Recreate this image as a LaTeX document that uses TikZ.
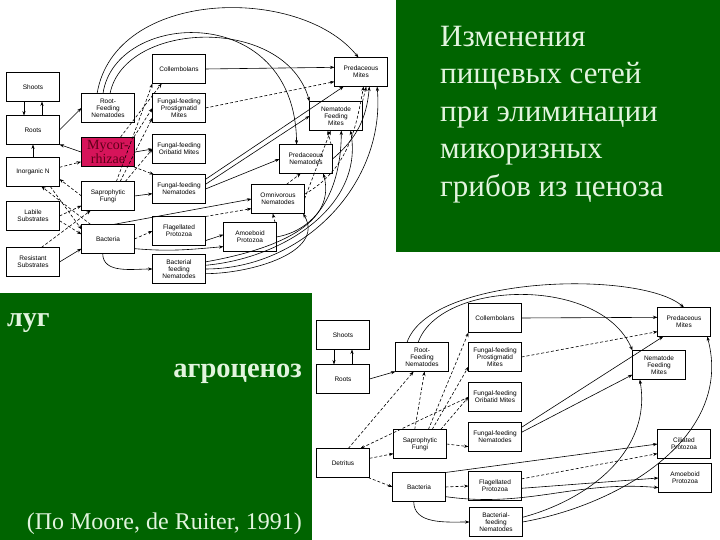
\documentclass[tikz,border=0pt]{standalone}
\usepackage{fontspec}
\setmainfont{Liberation Serif}
\setsansfont{Liberation Sans}
\usepackage{tikz}
\usepackage{tkz-graph}
\usetikzlibrary{arrows,arrows.meta,shapes}

\definecolor{panelgreen}{RGB}{0,100,0}
\definecolor{mint}{RGB}{226,244,222}
\definecolor{mycofill}{RGB}{214,20,90}
\definecolor{mycotext}{RGB}{95,0,25}
\newcommand{\boxfont}{\sffamily\fontsize{6.5}{7}\selectfont}
\newcommand{\mycofont}{\rmfamily\fontsize{14}{11}\selectfont}

\begin{document}
\begin{tikzpicture}[x=1pt,y=1pt]
        \SetVertexNoMath
        \tikzset{VertexStyle/.style={draw,rectangle,line width=0.9pt,minimum width=53pt,
                   minimum height=29pt,inner sep=1pt,align=center,font=\boxfont},
                 EdgeStyle/.style={-{Stealth[length=4.5pt,width=3.2pt]},line width=0.6pt},
                 dsh/.style={dash pattern=on 3pt off 2pt}}
        \useasboundingbox (0,0) rectangle (720,540);
        \fill[panelgreen] (396,288) rectangle (720,540);
        \fill[panelgreen] (0,0) rectangle (312,247);
        %texts
        \node[anchor=north west,inner sep=0,align=left,text=mint,
              font=\fontsize{31}{37.5}\selectfont] (title) at (440,514)
              {Изменения\\пищевых сетей\\при элиминации\\микоризных\\грибов из ценоза};
        \node[anchor=base west,inner sep=0,text=mint,font=\bfseries\fontsize{28}{32}\selectfont] (lug) at (7,213) {луг};
        \node[anchor=base east,inner sep=0,text=mint,font=\bfseries\fontsize{28.5}{32}\selectfont] (agro) at (302,162) {агроценоз};
        \node[anchor=base east,inner sep=0,text=mint,font=\fontsize{24}{28}\selectfont] (cite) at (302,10) {(По Moore, de Ruiter, 1991)};
        %meadow
        \Vertex[x=33,y=453,L={Shoots}]{tShoots}
        \Vertex[x=33,y=410,L={Roots}]{tRoots}
        \Vertex[x=33,y=368,L={Inorganic N}]{tInorgN}
        \Vertex[x=33,y=324,L={Labile\\Substrates}]{tLabile}
        \Vertex[x=33,y=278,L={Resistant\\Substrates}]{tResist}
        \Vertex[x=108,y=432,L={Root-\\Feeding\\Nematodes}]{tRFN}
        \node[VertexStyle,fill=mycofill,text=mycotext,font=\mycofont] (tMyco) at (108,388) {Mycor-\\rhizae};
        \Vertex[x=108,y=344,L={Saprophytic\\Fungi}]{tSapro}
        \Vertex[x=108,y=301,L={Bacteria}]{tBact}
        \Vertex[x=179,y=471,L={Collembolans}]{tColl}
        \Vertex[x=179,y=432,L={Fungal-feeding\\Prostigmatid\\Mites}]{tProst}
        \Vertex[x=179,y=391,L={Fungal-feeding\\Oribatid Mites}]{tOrib}
        \Vertex[x=179,y=351,L={Fungal-feeding\\Nematodes}]{tFFN}
        \Vertex[x=179,y=309,L={Flagellated\\Protozoa}]{tFlag}
        \Vertex[x=179,y=271,L={Bacterial\\feeding\\Nematodes}]{tBFN}
        \Vertex[x=250,y=303,L={Amoeboid\\Protozoa}]{tAmoeb}
        \Vertex[x=278,y=341,L={Omnivorous\\Nematodes}]{tOmni}
        \Vertex[x=306,y=381,L={Predaceous\\Nematodes}]{tPredN}
        \Vertex[x=336,y=424,L={Nematode\\Feeding\\Mites}]{tNFM}
        \Vertex[x=361,y=468,L={Predaceous\\Mites}]{tPredM}
        \Edge([xshift=-9pt]tShoots.south)([xshift=-9pt]tRoots.north)
        \Edge([xshift=9pt]tRoots.north)([xshift=9pt]tShoots.south)
        \Edge(tInorgN)(tRoots)
        \Edge(tRoots.east)(tRFN.west)
        \Edge(tMyco.west)(tRoots.south east)
        \Edge[style={dsh}](tInorgN.10)(tMyco.200)
        \Edge[style={dsh}](tSapro.west)(tInorgN.-15)
        \Edge[style={dsh}](tInorgN.-40)(tBact.160)
        \Edge[style={dsh}](tBact.140)(tInorgN.-60)
        \Edge[style={dsh}](tLabile.east)(tSapro.200)
        \Edge[style={dsh}](tLabile.-10)(tBact.170)
        \Edge[style={dsh}](tResist.60)(tSapro.220)
        \Edge(tResist.east)(tBact.200)
        \Edge[style={dsh}](tSapro.60)(tColl.south west)
        \Edge[style={dsh}](tSapro.50)(tProst.200)
        \Edge[style={dsh}](tSapro.40)(tOrib.west)
        \Edge(tSapro.east)(tFFN.190)
        \Edge[style={dsh}](tMyco.50)(tColl.220)
        \Edge[style={dsh}](tMyco.30)(tProst.west)
        \Edge(tMyco.east)(tOrib.west)
        \Edge[style={dsh}](tMyco.-30)(tFFN.150)
        \Edge[style={dsh}](tBact.east)(tFlag.west)
        \Edge[style={out=-5,in=185}](tBact.-20)(tAmoeb.-160)
        \Edge(tBact.70)(tOmni.west)
        \Edge[style={out=-90,in=180}](tBact.-110)(tBFN.west)
        \Edge(tColl.east)(tPredM.170)
        \Edge[style={dsh}](tProst.east)(tPredM.200)
        \Edge(tFFN.20)(tPredM.220)
        \Edge(tFFN.10)(tNFM.west)
        \Edge(tFFN.east)(tPredN.west)
        \Edge[style={dsh}](tFlag.north east)(tOmni.200)
        \Edge(tFlag.-20)(tAmoeb.175)
        \Edge[style={dsh}](tAmoeb.30)(tOmni.-110)
        \Edge[style={dsh}](tOmni.60)(tPredN.-110)
        \Edge[style={dsh}](tOmni.east)(tNFM.-110)
        \Edge[style={dsh,out=30,in=-100}](tOmni.10)(tPredM.-80)
        \Edge[style={dsh}](tPredN.30)(tNFM.-120)
        \Edge[style={out=40,in=-95}](tPredN.east)(tPredM.-60)
        \Edge[style={dsh}](tNFM.north east)(tPredM.-70)
        \Edge[style={out=0,in=-85}](tBFN.east)(tPredM.-42)
        \Edge[style={out=5,in=-80}](tBFN.8)(tNFM.-45)
        \Edge[style={out=10,in=-75}](tBFN.15)(tPredN.-40)
        \Edge[style={out=0,in=-60}](tBFN.-10)(tOmni.-30)
        \Edge[style={out=10,in=-90}](tAmoeb.east)(tNFM.-70)
        \draw[EdgeStyle] (tRFN.127) .. controls (115,552) and (300,555) .. (tPredM.100);
        \draw[EdgeStyle] (tRFN.109) .. controls (115,530) and (295,540) .. (tPredN.123);
        \draw[EdgeStyle] (tRFN.82) .. controls (125,520) and (285,525) .. (tNFM.north west);
        %agro
        \Vertex[x=343,y=205,L={Shoots}]{bShoots}
        \Vertex[x=343,y=161,L={Roots}]{bRoots}
        \Vertex[x=343,y=77,L={Detritus}]{bDetr}
        \Vertex[x=422,y=183,L={Root-\\Feeding\\Nematodes}]{bRFN}
        \Vertex[x=420,y=96,L={Saprophytic\\Fungi}]{bSapro}
        \Vertex[x=419,y=53,L={Bacteria}]{bBact}
        \Vertex[x=495,y=222,L={Collembolans}]{bColl}
        \Vertex[x=495,y=183,L={Fungal-feeding\\Prostigmatid\\Mites}]{bProst}
        \Vertex[x=495,y=143,L={Fungal-feeding\\Oribatid Mites}]{bOrib}
        \Vertex[x=495,y=103,L={Fungal-feeding\\Nematodes}]{bFFN}
        \Vertex[x=495,y=54,L={Flagellated\\Protozoa}]{bFlag}
        \Vertex[x=496,y=18,L={Bacterial-\\feeding\\Nematodes}]{bBFN}
        \Vertex[x=684,y=218,L={Predaceous\\Mites}]{bPredM}
        \Vertex[x=659,y=175,L={Nematode\\Feeding\\Mites}]{bNFM}
        \Vertex[x=684,y=96,L={Ciliated\\Protozoa}]{bCil}
        \Vertex[x=685,y=62,L={Amoeboid\\Protozoa}]{bAmoeb}
        \Edge([xshift=-9pt]bShoots.south)([xshift=-9pt]bRoots.north)
        \Edge([xshift=9pt]bRoots.north)([xshift=9pt]bShoots.south)
        \Edge(bRoots.east)(bRFN.south west)
        \Edge[style={dsh}](bDetr.10)(bSapro.200)
        \Edge[style={dsh}](bDetr.-30)(bBact.west)
        \Edge[style={dsh}](bDetr.70)(bRFN.-120)
        \Edge[style={dsh}](bOrib.west)(bDetr.40)
        \Edge[style={dsh}](bSapro.110)(bRFN.-80)
        \Edge[style={dsh}](bSapro.60)(bColl.south west)
        \Edge[style={dsh}](bSapro.50)(bProst.200)
        \Edge[style={dsh}](bSapro.35)(bOrib.west)
        \Edge[style={dsh}](bSapro.east)(bFFN.200)
        \Edge[style={dsh}](bBact.east)(bFlag.west)
        \Edge(bBact.north east)(bCil.west)
        \Edge[style={out=-8,in=175}](bBact.-20)(bAmoeb.-160)
        \Edge[style={out=-90,in=180}](bBact.-110)(bBFN.west)
        \Edge(bColl.east)(bPredM.170)
        \Edge[style={dsh}](bProst.east)(bPredM.200)
        \Edge(bFFN.20)(bPredM.215)
        \Edge(bFFN.10)(bNFM.200)
        \Edge[style={dsh}](bFlag.15)(bCil.200)
        \Edge(bFlag.-5)(bAmoeb.180)
        \Edge[style={out=15,in=-80}](bBFN.10)(bNFM.-143)
        \Edge[style={out=10,in=-75}](bBFN.east)(bPredM.-32)
        \draw[EdgeStyle] (bRFN.136) .. controls (430,265) and (640,270) .. (bPredM.north);
        \draw[EdgeStyle] (bRFN.105) .. controls (440,260) and (600,265) .. (bNFM.north west);
    \end{tikzpicture}
\end{document}
